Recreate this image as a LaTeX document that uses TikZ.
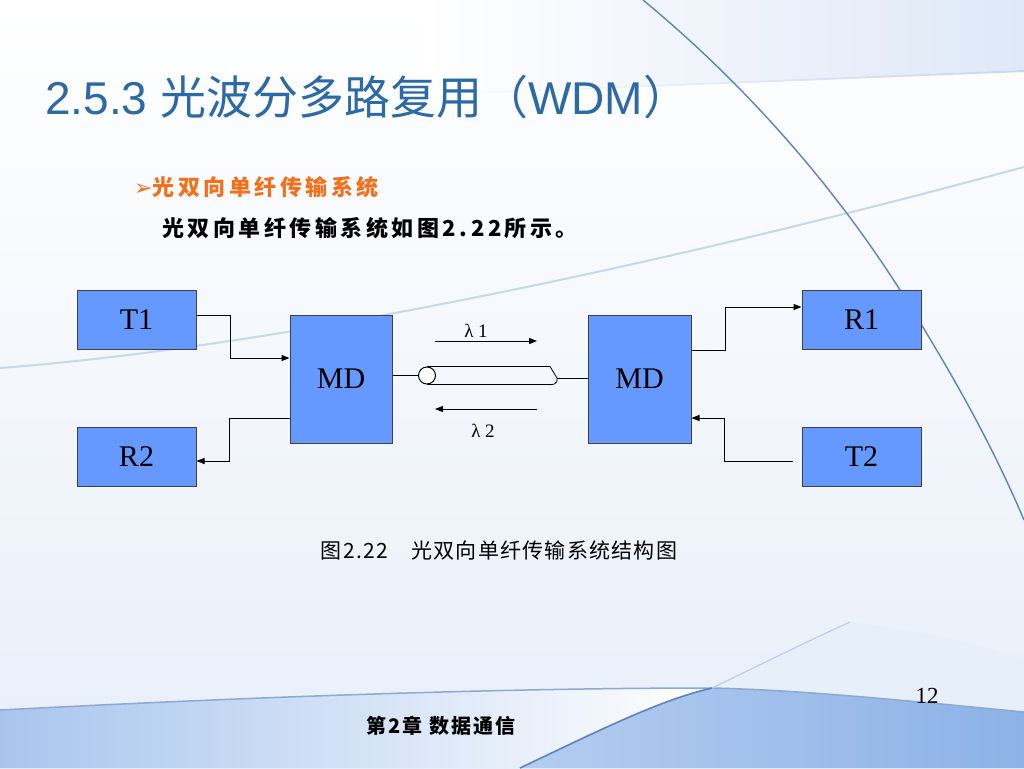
\documentclass[tikz,border=0pt]{standalone}
\usepackage{fontspec}
\setmainfont{Liberation Serif}
\newfontfamily\cjk{Noto Sans CJK SC}
\newfontfamily\cjksp[LetterSpace=16]{Noto Sans CJK SC}
\newfontfamily\cjkcap[LetterSpace=6]{Noto Sans CJK SC}
\newfontfamily\cjkfoot[LetterSpace=10]{Noto Sans CJK SC}
\newfontfamily\arial{Liberation Sans}
\newfontfamily\dejavu{DejaVu Sans}
\usetikzlibrary{arrows.meta}
\definecolor{boxblue}{RGB}{102,153,255}
\definecolor{titleblue}{RGB}{45,105,165}
\definecolor{orangeT}{RGB}{245,110,25}
\definecolor{bgline}{RGB}{95,130,190}
\definecolor{bgfaint}{RGB}{200,215,235}
\definecolor{bandblue}{RGB}{140,178,232}
\definecolor{bandlight}{RGB}{215,228,245}
\definecolor{topband}{RGB}{222,232,247}
\tikzset{
  box/.style={draw=black!75, fill=boxblue, line width=1pt, inner sep=0pt,
    font=\fontsize{30}{30}\selectfont},
  conn/.style={line width=1pt, -{Triangle[length=8pt,width=6pt]}},
  wire/.style={line width=1pt},
  lam/.style={font=\fontsize{19}{19}\selectfont},
}
\begin{document}
\begin{tikzpicture}[x=1pt,y=-1pt]
\useasboundingbox (0,0) rectangle (1024,768);
% background
\shade[top color=white, bottom color={rgb,255:red,232;green,239;blue,249}] (0,0) rectangle (1024,768);
\shade[left color=white, right color=topband] (420,0) -- (1024,0) -- (1024,70) -- (420,94) -- cycle;
\shade[left color=white, right color=bgfaint] (420,94) -- (1024,70) -- (1024,72) -- (420,96) -- cycle;
\draw[bgfaint, line width=2pt] (0,368) .. controls (300,345) and (700,255) .. (1024,167);
\draw[bgline, line width=1.4pt] (643,0) .. controls (740,80) and (830,180) .. (900,290) .. controls (950,370) and (990,440) .. (1024,520);
% bottom band
\shade[left color=bandblue!75, right color=white] (0,710) .. controls (250,697) and (500,688) .. (712,688) -- (520,768) -- (0,768) -- cycle;
\fill[bandlight!60] (712,688) .. controls (770,660) and (810,640) .. (850,622) .. controls (950,635) and (1000,650) .. (1024,660) -- (1024,712) .. controls (900,700) and (800,690) .. (712,688) -- cycle;
\shade[left color=bandblue!65, right color=bandblue] (520,768) .. controls (600,730) and (660,700) .. (712,688) .. controls (800,690) and (900,700) .. (1024,712) -- (1024,768) -- cycle;
\draw[bgline!70, line width=1.5pt] (0,710) .. controls (250,697) and (500,688) .. (712,688) .. controls (800,690) and (900,700) .. (1024,712);
\draw[bgline, line width=1.6pt] (520,768) .. controls (600,730) and (660,700) .. (712,688);
\draw[bgline!40, line width=1.2pt] (712,688) .. controls (770,660) and (810,640) .. (850,622);
% texts
\node[anchor=west, text=titleblue, inner sep=0] (title) at (45,97)
  {\fontsize{46}{46}\selectfont\arial 2.5.3 \cjk 光波分多路复用（\arial WDM\cjk ）};
\node[anchor=west, text=orangeT, inner sep=0] (bul) at (134,187)
  {\fontsize{22}{22}\selectfont{\dejavu\fontsize{22}{22}\selectfont ➢}\cjksp\bfseries 光双向单纤传输系统};
\node[anchor=west, inner sep=0] (body) at (162,228)
  {\fontsize{22}{22}\selectfont\cjksp\bfseries 光双向单纤传输系统如图2.22所示。};
\node[inner sep=0] (cap) at (499,550)
  {\fontsize{21}{21}\selectfont\cjkcap 图2.22　光双向单纤传输系统结构图};
\node[inner sep=0] (foot) at (441,726)
  {\fontsize{20}{20}\selectfont\cjkfoot\bfseries 第2章\ 数据通信};
\node[inner sep=0] (pg) at (927,696) {\fontsize{23}{23}\selectfont 12};
% boxes
\node[box, minimum width=119pt, minimum height=59pt] (t1) at (136.5,319.5) {T1};
\node[box, minimum width=119pt, minimum height=59pt] (r2) at (136.5,456.5) {R2};
\node[box, minimum width=102pt, minimum height=128pt] (mdl) at (341,379) {MD};
\node[box, minimum width=103pt, minimum height=128pt] (mdr) at (639.5,379) {MD};
\node[box, minimum width=119pt, minimum height=59pt] (r1) at (861.5,319.5) {R1};
\node[box, minimum width=119pt, minimum height=59pt] (t2) at (861.5,456.5) {T2};
% connectors
\draw[conn] ([yshift=4.5pt]t1.east) -- ++(34,0) |- ([yshift=21pt]mdl.west);
\draw[conn] ([yshift=-39pt]mdl.west) -- ++(-60,0) |- ([yshift=-4.5pt]r2.east);
\draw[conn] ([yshift=29pt]mdr.east) -- ++(34,0) |- ([yshift=12.5pt]r1.west);
\draw[conn] ([xshift=-9pt,yshift=-4.5pt]t2.west) -- ++(-68,0) |- ([yshift=-39pt]mdr.east);
% fiber
\node[circle, draw, line width=1pt, minimum size=17pt, inner sep=0, fill=white] (fc) at (427,375.5) {};
\coordinate (fe) at (557,378);
\draw[wire] (mdl.east |- fc) -- (fc.west);
\draw[wire, line width=0.8pt] (fc.north) -- ++(120,0) -- ++(3,0) -- (fe) .. controls (558,385) and (552,385) .. ([xshift=120pt]fc.south) -- (fc.south);
\draw[wire] (fe) -- (mdr.west |- fe);
% lambda arrows
\coordinate (a1s) at (435,341); \coordinate (a1e) at (537,341);
\coordinate (a2s) at (537,409); \coordinate (a2e) at (435,409);
\draw[conn] (a1s) -- (a1e);
\draw[conn] (a2s) -- (a2e);
\node[lam] (l1) at (476,331) {λ 1};
\node[lam] (l2) at (483,431) {λ 2};
\end{tikzpicture}
\end{document}
